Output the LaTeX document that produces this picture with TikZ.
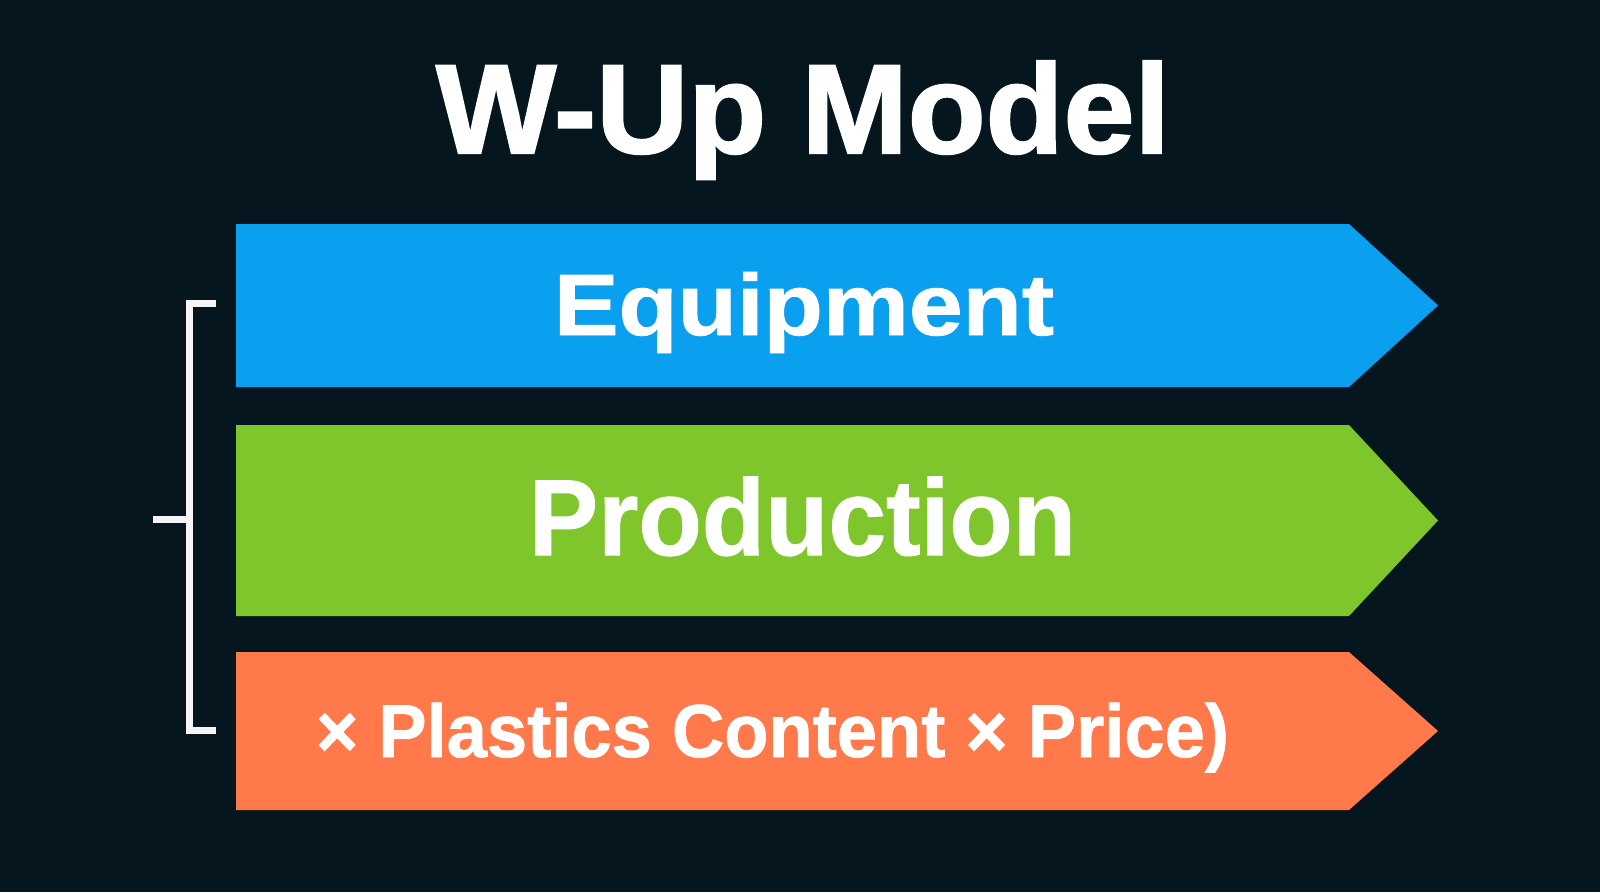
\documentclass[tikz,border=0pt]{standalone}
\usepackage{fontspec}
\setmainfont{Liberation Sans}
\newfontfamily\heavyfont{Liberation Sans Bold}[FakeBold=1.6]
\newfontfamily\semiheavy{Liberation Sans Bold}[FakeBold=1.0]
\usepackage{graphicx}
\definecolor{bg}{RGB}{6,22,31}
\definecolor{barblue}{RGB}{11,159,239}
\definecolor{bargreen}{RGB}{127,198,44}
\definecolor{barorange}{RGB}{255,121,75}
\definecolor{brk}{RGB}{245,245,245}
\tikzset{
  lbl/.style={text=white, inner sep=0pt, anchor=base},
  brace/.style={draw=brk, line width=7pt, line cap=butt, line join=miter}
}
\begin{document}
\begin{tikzpicture}[x=1pt,y=-1pt]
\fill[bg] (0,0) rectangle (1600,892);
\useasboundingbox (0,0) rectangle (1600,892);
% bars
\fill[barblue] (236,224) -- (1349,224) -- (1438,305.5) -- (1349,387) -- (236,387) -- cycle;
\fill[bargreen] (236,425) -- (1349,425) -- (1438,520.5) -- (1349,616) -- (236,616) -- cycle;
\fill[barorange] (236,652) -- (1349,652) -- (1438,731) -- (1349,810) -- (236,810) -- cycle;
% texts
\node[lbl] (title) at (803,153) {\resizebox{734pt}{\height}{\fontsize{127}{127}\heavyfont W-Up Model}};
\node[lbl] (equip) at (804,335) {\resizebox{500pt}{\height}{\fontsize{87}{87}\semiheavy Equipment}};
\node[lbl] (prod) at (802.5,555) {\resizebox{547pt}{\height}{\fontsize{108}{108}\semiheavy Production}};
\node[lbl] (plast) at (772.5,757) {\resizebox{913pt}{\height}{\fontsize{75}{75}\semiheavy × Plastics Content × Price)}};
% bracket
\coordinate (bt) at (216,303.5);
\coordinate (bb) at (216,730);
\coordinate (bm) at (153,519);
\draw[brace] (bt) -- (189.5,303.5) -- (189.5,730) -- (bb);
\draw[brace] (bm) -- (189.5,519);
\end{tikzpicture}
\end{document}
